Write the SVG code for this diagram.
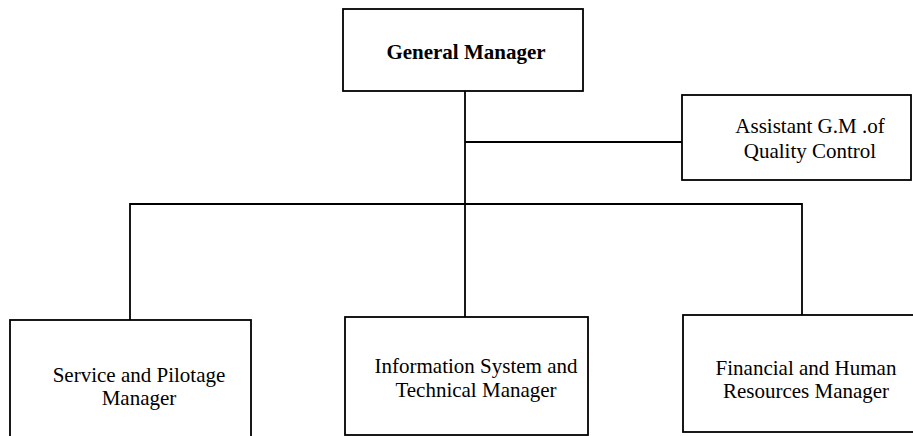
<svg xmlns="http://www.w3.org/2000/svg" width="913" height="436" viewBox="0 0 913 436">
  <style>
    .box { fill: #ffffff; stroke: #000000; stroke-width: 1.8; }
    .link { fill: none; stroke: #000000; stroke-width: 1.8; }
    .label { font-family: "Liberation Serif", "Times New Roman", serif; font-size: 21px; fill: #000000; text-anchor: middle; }
    .bold { font-weight: bold; }
  </style>
  <rect width="913" height="436" fill="#ffffff"/>

  <!-- connectors -->
  <g id="connectors">
    <path class="link" d="M465,91 V317"/>
    <path class="link" d="M465,142 H682"/>
    <path class="link" d="M130,320 V204 H802 V315"/>
  </g>

  <g id="general-manager">
    <rect class="box" x="343" y="9" width="240" height="82"/>
    <text class="label bold" x="466" y="59">General Manager</text>
  </g>

  <g id="assistant-gm">
    <rect class="box" x="682" y="95" width="229" height="85"/>
    <text class="label" x="810" y="133">Assistant G.M .of</text>
    <text class="label" x="810" y="158">Quality Control</text>
  </g>

  <g id="service-pilotage">
    <rect class="box" x="10" y="320" width="241" height="120"/>
    <text class="label" x="139" y="382">Service and Pilotage</text>
    <text class="label" x="139" y="405">Manager</text>
  </g>

  <g id="information-technical">
    <rect class="box" x="345" y="317" width="243" height="118"/>
    <text class="label" x="476" y="373">Information System and</text>
    <text class="label" x="476" y="397">Technical Manager</text>
  </g>

  <g id="financial-hr">
    <rect class="box" x="683" y="315" width="232" height="117"/>
    <text class="label" x="806" y="375">Financial and Human</text>
    <text class="label" x="806" y="398">Resources Manager</text>
  </g>
</svg>
